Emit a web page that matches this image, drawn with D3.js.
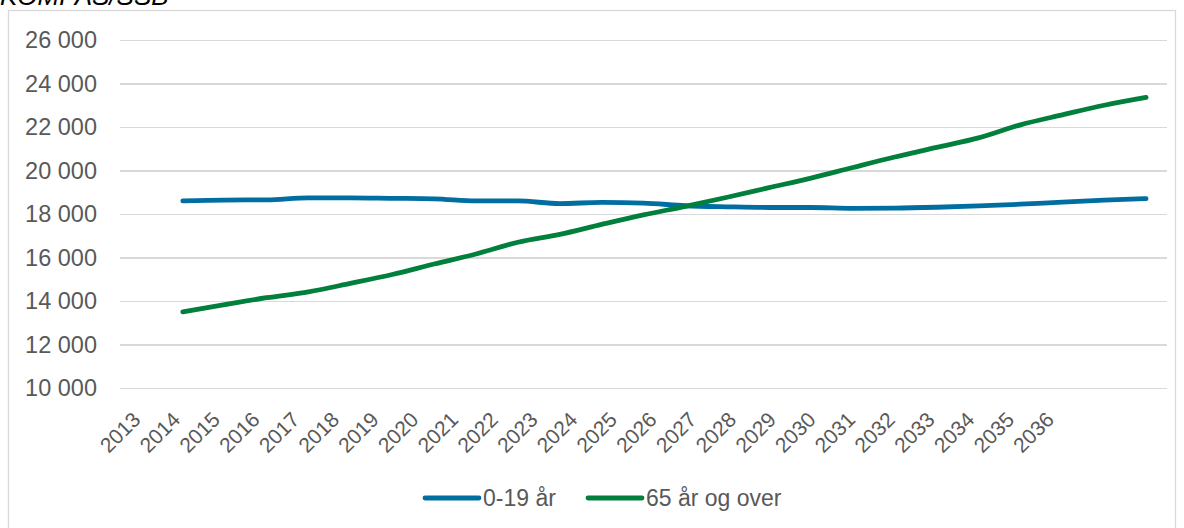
<!doctype HTML>
<html lang="no">
<head>
<title>Befolkning 0-19 år og 65 år og over</title>
<script src="https://d3js.org/d3.v7.min.js"></script>
<style type="text/css">
  body { margin: 0; background: #fff; }
  text { font-family: "Liberation Sans", Arial, sans-serif; fill: #595959; }
  .grid line { stroke: #d9d9d9; stroke-width: 1.3; shape-rendering: crispEdges; }
</style>
</head>
<body>
<script type="text/javascript">

// tick labels under the axis
var years = ["2013","2014","2015","2016","2017","2018","2019","2020","2021","2022","2023","2024",
             "2025","2026","2027","2028","2029","2030","2031","2032","2033","2034","2035","2036"];

// series values, 25 category slots, the first is empty
var young = [null, 18600, 18640, 18650, 18740, 18740, 18720, 18700, 18600, 18600, 18480, 18530,
             18500, 18380, 18330, 18300, 18300, 18260, 18270, 18310, 18370, 18450, 18550, 18640, 18710];
var old = [null, 13500, 13830, 14150, 14420, 14810, 15220, 15700, 16160, 16700, 17060, 17520,
           17960, 18350, 18770, 19210, 19650, 20140, 20620, 21060, 21500, 22100, 22560, 23000, 23360];

var yTicks = [10000, 12000, 14000, 16000, 18000, 20000, 22000, 24000, 26000];

var series = [
  {name: "0-19 år", values: young, color: "#006ea1"},
  {name: "65 år og over", values: old, color: "#007f3d"}
];

var W = 1184, H = 528;
var margin = {top: 40, right: 17, bottom: 140, left: 120},
    width = W - margin.left - margin.right,
    height = H - margin.top - margin.bottom;

var svg = d3.select("body").append("svg")
  .attr("width", W)
  .attr("height", H);

// outer chart border
svg.append("rect")
  .attr("x", 8.5).attr("y", 10.5)
  .attr("width", 1167).attr("height", 540)
  .attr("fill", "none")
  .attr("stroke", "#d9d9d9")
  .attr("stroke-width", 1.3);

// source text, cut at the top edge like in the original
svg.append("text")
  .attr("x", 0).attr("y", 5)
  .attr("font-size", 26)
  .attr("font-style", "italic")
  .style("fill", "#000")
  .text("KOMPAS/SSB");

var g = svg.append("g")
  .attr("transform", "translate(" + margin.left + "," + margin.top + ")");

var x = d3.scaleBand().domain(d3.range(young.length)).range([0, width]);
var xLab = d3.scaleBand().domain(years).range([0, 953]);
var y = d3.scaleLinear().domain([10000, 26000]).range([height, 0]);

// gridlines
g.append("g")
  .attr("class", "grid")
  .call(d3.axisLeft(y).tickValues(yTicks).tickSize(-width).tickFormat(""))
  .call(function(s) { s.select(".domain").remove(); });

// y labels
var fmt = function(d) { return d3.format(",")(d).replace(",", " "); };
g.append("g")
  .selectAll("text")
  .data(yTicks)
  .enter()
  .append("text")
  .attr("x", -23)
  .attr("y", function(d) { return y(d); })
  .attr("dy", "0.36em")
  .attr("text-anchor", "end")
  .attr("font-size", 23.5)
  .text(fmt);

// x labels, rotated
g.append("g")
  .selectAll("text")
  .data(years)
  .enter()
  .append("text")
  .attr("text-anchor", "end")
  .attr("font-size", 21)
  .attr("transform", function(d) {
    return "translate(" + (xLab(d) + xLab.bandwidth() / 2 + 2) + "," + (height + 33) + ") rotate(-45)";
  })
  .text(function(d) { return d; });

// lines
var line = d3.line()
  .defined(function(d) { return d != null; })
  .x(function(d, i) { return x(i) + x.bandwidth() / 2; })
  .y(function(d) { return y(d); })
  .curve(d3.curveMonotoneX);

series.forEach(function(s) {
  g.append("path")
    .datum(s.values)
    .attr("fill", "none")
    .attr("stroke", s.color)
    .attr("stroke-width", 4.8)
    .attr("stroke-linecap", "round")
    .attr("stroke-linejoin", "round")
    .attr("d", line);
});

// legend
var legend = svg.append("g").attr("transform", "translate(0,498)");
var legX = [425, 588];
series.forEach(function(s, i) {
  legend.append("line")
    .attr("x1", legX[i]).attr("x2", legX[i] + 54)
    .attr("y1", 0).attr("y2", 0)
    .attr("stroke", s.color)
    .attr("stroke-width", 4.8)
    .attr("stroke-linecap", "round");
  legend.append("text")
    .attr("x", legX[i] + 58)
    .attr("y", 0)
    .attr("dy", "0.36em")
    .attr("font-size", 23)
    .text(s.name);
});

</script>
</body>
</html>
